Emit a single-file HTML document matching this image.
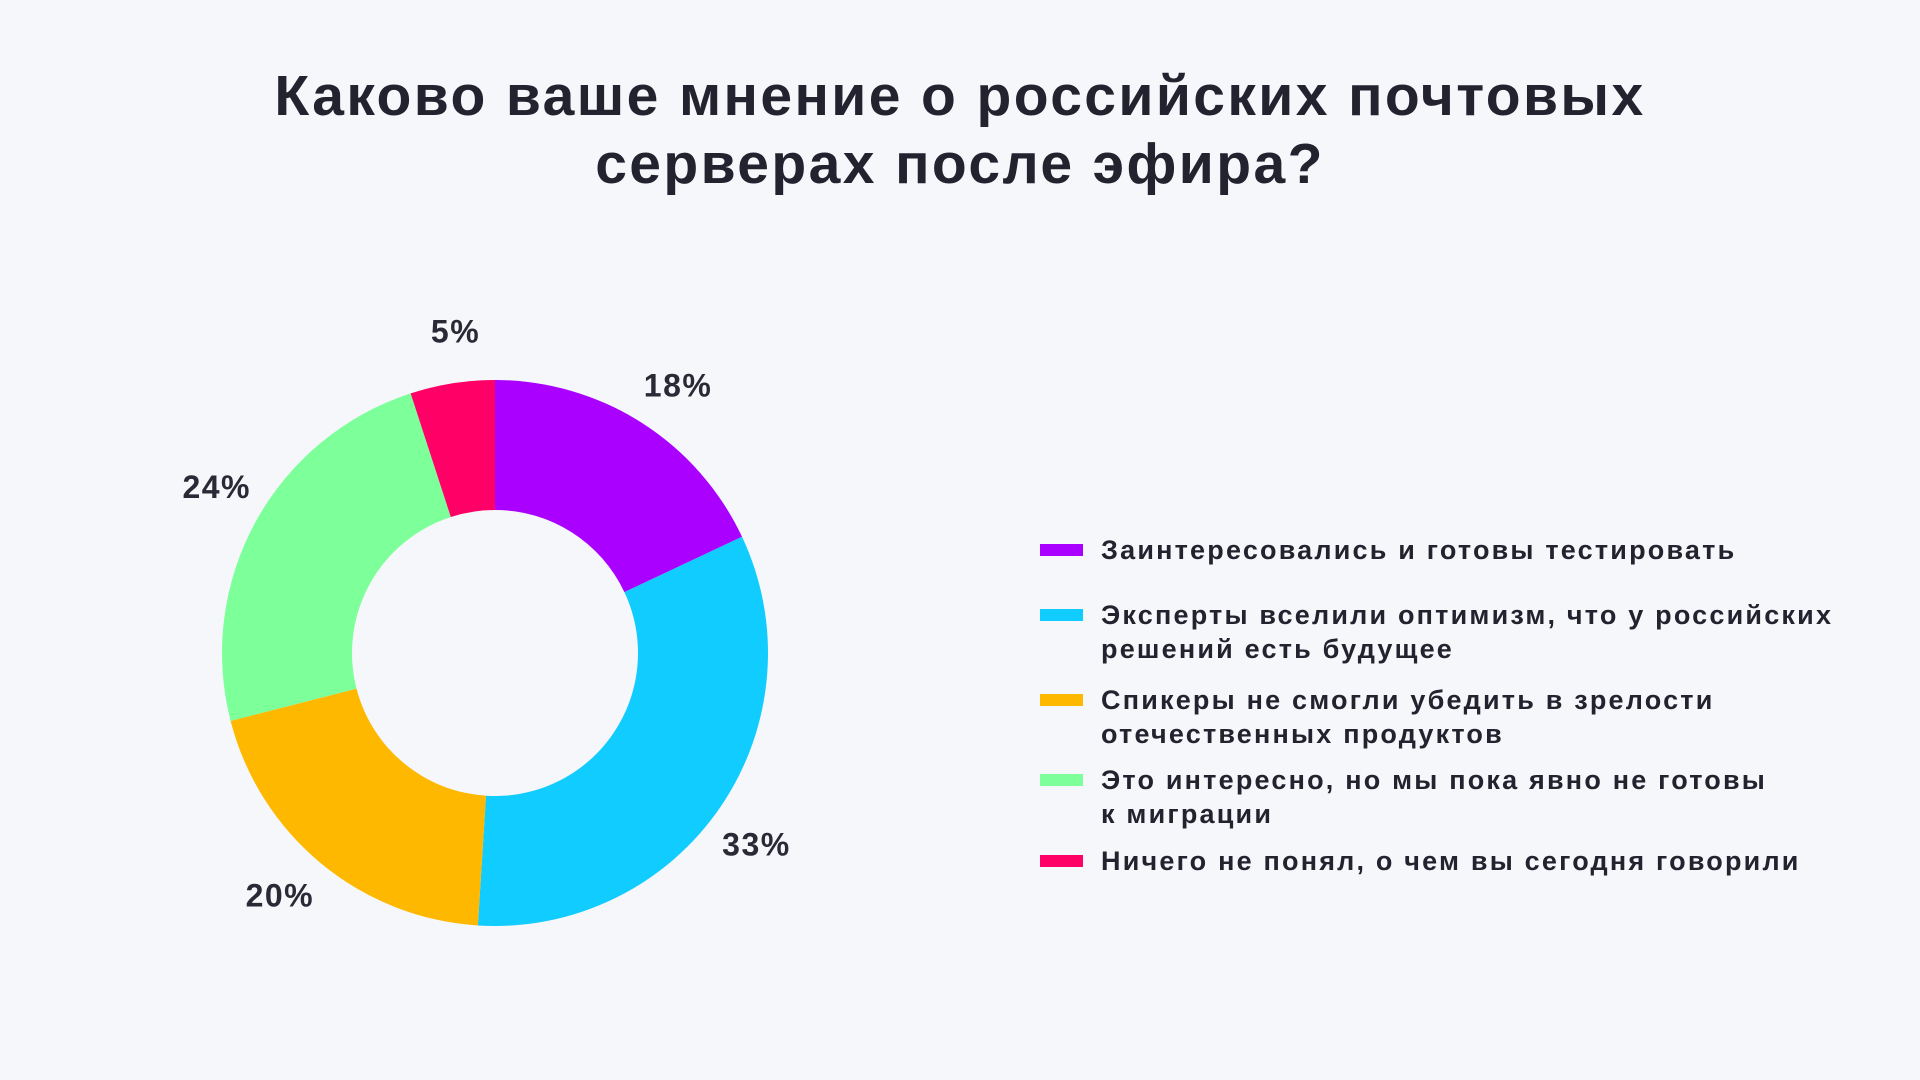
<!DOCTYPE html>
<html><head><meta charset="utf-8"><style>
body{margin:0;width:1920px;height:1080px;background:#f6f7fb;font-family:"Liberation Sans","DejaVu Sans",sans-serif;color:#23232f;overflow:hidden;position:relative}
h1{position:absolute;top:62px;left:0;width:1920px;margin:0;text-align:center;font-size:57px;line-height:68px;font-weight:bold;letter-spacing:2.4px}
.leg{position:absolute;left:1040px;font-size:27px;font-weight:bold;line-height:34px;letter-spacing:2.2px}
.sw{position:absolute;left:0;top:11px;width:43px;height:12px}
.lt{margin-left:61px;white-space:nowrap}
</style></head><body>
<h1>Каково ваше мнение о российских почтовых<br>серверах после эфира?</h1>
<svg id="chart" width="1920" height="1080" style="position:absolute;left:0;top:0"></svg>
<div id="legend"></div>
<script>
const categories=["Заинтересовались и готовы тестировать","Эксперты вселили оптимизм, что у российских<br>решений есть будущее","Спикеры не смогли убедить в зрелости<br>отечественных продуктов","Это интересно, но мы пока явно не готовы<br>к миграции","Ничего не понял, о чем вы сегодня говорили"];
const values=[18,33,20,24,5];
const colors=["#aa00ff","#11ccff","#ffb800","#7dff9a","#ff0066"];
const legendTops=[533,598,683,763,844];
const cx=495,cy=653,R=273,r=143,LR=324,LA=0.035;
const svg=document.getElementById('chart');const NS="http://www.w3.org/2000/svg";
const total=values.reduce((a,b)=>a+b,0);
let a0=0;
function pt(a,rad){return [cx+rad*Math.sin(a),cy-rad*Math.cos(a)];}
values.forEach((v,i)=>{
 const a1=a0+v/total*2*Math.PI;const large=(a1-a0)>Math.PI?1:0;
 const p1=pt(a0,R),p2=pt(a1,R),p3=pt(a1,r),p4=pt(a0,r);
 const p=document.createElementNS(NS,'path');
 p.setAttribute('d',`M${p1[0]},${p1[1]}A${R},${R} 0 ${large} 1 ${p2[0]},${p2[1]}L${p3[0]},${p3[1]}A${r},${r} 0 ${large} 0 ${p4[0]},${p4[1]}Z`);
 p.setAttribute('fill',colors[i]);
 
 
 svg.appendChild(p);
 const am=(a0+a1)/2+LA;const lp=pt(am,LR);
 const t=document.createElementNS(NS,'text');
 t.setAttribute('x',lp[0]);t.setAttribute('y',lp[1]+11);t.setAttribute('text-anchor','middle');
 t.setAttribute('font-size','32');t.setAttribute('font-weight','bold');t.setAttribute('fill','#2a2a36');
 t.setAttribute('letter-spacing','1.5');
 t.setAttribute('font-family','Liberation Sans, sans-serif');
 t.textContent=v+'%';
 
 
 svg.appendChild(t);
 a0=a1;
});
const lg=document.getElementById('legend');
categories.forEach((c,i)=>{
 const d=document.createElement('div');d.className='leg';d.style.top=legendTops[i]+'px';
 d.innerHTML=`<div class="sw" style="background:${colors[i]}"></div><div class="lt">${c}</div>`;
 
 
 lg.appendChild(d);
});
</script>
</body></html>
